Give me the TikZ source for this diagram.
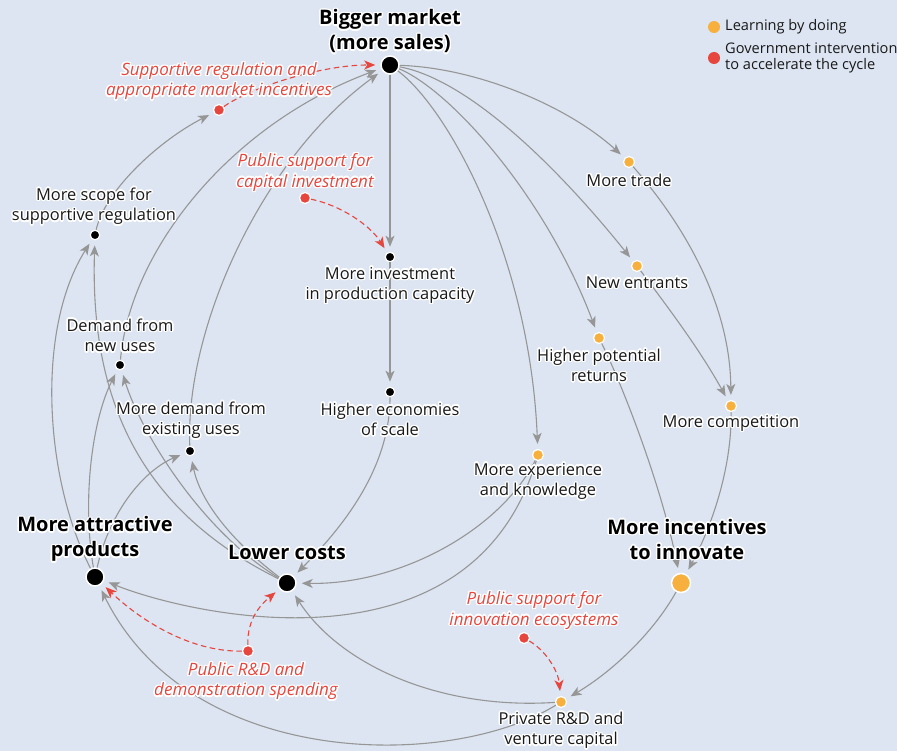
\documentclass[tikz,border=0pt]{standalone}
\usepackage{fontspec}
\setmainfont{Open Sans}
\usepackage[copies]{contour}
\contourlength{1.4pt}
\usetikzlibrary{arrows.meta}
\definecolor{bg}{RGB}{220,229,241}
\definecolor{arrgray}{RGB}{150,150,150}
\definecolor{myred}{RGB}{230,70,62}
\definecolor{myorange}{RGB}{247,176,62}
\definecolor{txt}{RGB}{25,25,25}
\newcommand\hw[1]{\contour{white}{#1}}
\begin{document}
\begin{tikzpicture}[x=1pt,y=-1pt,
  lab/.style={align=center,inner sep=0pt,font=\fontsize{16.4}{20.5}\selectfont,text=txt},
  blab/.style={align=center,inner sep=0pt,font=\fontsize{20}{25}\selectfont\bfseries,text=black},
  rlab/.style={align=center,inner sep=0pt,font=\fontsize{17}{20.5}\selectfont\itshape,text=myred},
  leg/.style={align=left,inner sep=0pt,anchor=west,font=\fontsize{14.6}{16.5}\selectfont,text=txt},
  bdot/.style={circle,fill=black,draw=white,line width=1.5pt,inner sep=0pt,minimum size=18pt},
  sdot/.style={circle,fill=black,draw=white,line width=1.2pt,inner sep=0pt,minimum size=9.5pt},
  odot/.style={circle,fill=myorange,draw=white,line width=1.2pt,inner sep=0pt,minimum size=11pt},
  bodot/.style={circle,fill=myorange,draw=white,line width=1.5pt,inner sep=0pt,minimum size=19pt},
  rdot/.style={circle,fill=myred,draw=white,line width=1.2pt,inner sep=0pt,minimum size=11pt},
  garr/.style={draw=arrgray,line width=1.1pt,-{Stealth[length=11pt,width=9pt,inset=3pt]},shorten >=5pt},
  rarr/.style={draw=myred,line width=1.1pt,dash pattern=on 5.5pt off 3.5pt,-{Stealth[length=11pt,width=9pt,inset=3pt]},shorten >=5pt},
]
\fill[bg] (0,0) rectangle (897,751);
\useasboundingbox (0,0) rectangle (897,751);

% dots
\node[bdot] (BM) at (390,65) {};
\node[sdot] (MI) at (390,257) {};
\node[sdot] (HE) at (390,392) {};
\node[sdot] (MS) at (95,235) {};
\node[sdot] (DN) at (120,365) {};
\node[sdot] (DE) at (190,451) {};
\node[bdot] (MA) at (95,577) {};
\node[bdot] (LC) at (287,583) {};
\node[odot] (MT) at (629,162) {};
\node[odot] (NE) at (637,266) {};
\node[odot] (HP) at (599,338) {};
\node[odot] (MC) at (731,406) {};
\node[odot] (ME) at (538,455) {};
\node[bodot] (MII) at (681,583) {};
\node[odot] (PR) at (561,702) {};
\node[rdot] (SR) at (219,110) {};
\node[rdot] (PS) at (305,198) {};
\node[rdot] (PRD) at (248,651) {};
\node[rdot] (PI) at (524,638) {};

% gray connectors
\draw[garr] (BM) -- (MI);
\draw[garr] (MI) -- (HE);
\draw[garr] (BM) .. controls (480,68) and (570,108) .. (MT);
\draw[garr] (BM) .. controls (470,80) and (560,170) .. (NE);
\draw[garr] (BM) .. controls (450,90) and (545,195) .. (HP);
\draw[garr] (BM) .. controls (450,110) and (530,260) .. (ME);
\draw[garr] (MT) .. controls (680,220) and (730,300) .. (MC);
\draw[garr] (NE) .. controls (670,310) and (700,350) .. (MC);
\draw[garr] (HP) .. controls (620,380) and (660,480) .. (MII);
\draw[garr] (MC) .. controls (732,470) and (710,530) .. (MII);
\draw[garr] (MII) .. controls (655,630) and (615,670) .. (PR);
\draw[garr] (PR) .. controls (440,710) and (340,665) .. (LC);
\draw[garr] (PR) .. controls (450,770) and (190,770) .. (MA);
\draw[garr] (ME) .. controls (500,530) and (400,585) .. (LC);
\draw[garr] (ME) .. controls (470,680) and (190,615) .. (MA);
\draw[garr] (HE) .. controls (390,470) and (340,530) .. (LC);
\draw[garr] (MA) .. controls (45,480) and (35,330) .. (MS);
\draw[garr] (LC) .. controls (140,510) and (90,400) .. (MS);
\draw[garr] (MA) .. controls (82,500) and (92,420) .. (DN);
\draw[garr] (LC) .. controls (200,530) and (140,430) .. (DN);
\draw[garr] (MA) .. controls (110,510) and (145,470) .. (DE);
\draw[garr] (LC) .. controls (230,540) and (200,500) .. (DE);
\draw[garr] (DN) .. controls (130,250) and (230,125) .. (BM);
\draw[garr] (DE) .. controls (185,330) and (260,160) .. (BM);
\draw[garr] (MS) .. controls (105,190) and (160,140) .. (SR);

% red dashed connectors
\draw[rarr] (SR) .. controls (250,88) and (320,65) .. (BM);
\draw[rarr] (PS) .. controls (340,205) and (370,225) .. (MI);
\draw[rarr] (PRD) .. controls (247,620) and (260,605) .. (LC);
\draw[rarr] (PRD) .. controls (190,652) and (140,620) .. (MA);
\draw[rarr] (PI) .. controls (545,650) and (558,670) .. (PR);

% labels
\node[blab] (tBM) at (390,32) {\hw{Bigger market}\\\hw{(more sales)}};
\node[blab] (tMA) at (95,540) {\hw{More attractive}\\\hw{products}};
\node[blab] (tLC) at (287,553) {\hw{Lower costs}};
\node[blab] (tMII) at (687,540) {\hw{More incentives}\\\hw{to innovate}};
\node[lab] (tMI) at (390,286) {\hw{More investment}\\\hw{in production capacity}};
\node[lab] (tHE) at (390,420) {\hw{Higher economies}\\\hw{of scale}};
\node[lab] (tMS) at (94,207) {\hw{More scope for}\\\hw{supportive regulation}};
\node[lab] (tDN) at (120,336) {\hw{Demand from}\\\hw{new uses}};
\node[lab] (tDE) at (191,421) {\hw{More demand from}\\\hw{existing uses}};
\node[lab] (tMT) at (629,181) {\hw{More trade}};
\node[lab] (tNE) at (637,283) {\hw{New entrants}};
\node[lab] (tHP) at (599,366) {\hw{Higher potential}\\\hw{returns}};
\node[lab] (tMC) at (731,424) {\hw{More competition}};
\node[lab] (tME) at (538,482) {\hw{More experience}\\\hw{and knowledge}};
\node[lab] (tPR) at (561,731) {\hw{Private R\&D and}\\\hw{venture capital}};
\node[rlab] (tSR) at (219,82) {\hw{Supportive regulation and}\\\hw{appropriate market incentives}};
\node[rlab] (tPS) at (305,173) {\hw{Public support for}\\\hw{capital investment}};
\node[rlab] (tPRD) at (246,682) {\hw{Public R\&D and}\\\hw{demonstration spending}};
\node[rlab] (tPI) at (534,611) {\hw{Public support for}\\\hw{innovation ecosystems}};

% legend
\node[odot,minimum size=12pt,draw=none] (L1) at (714,27) {};
\node[rdot,minimum size=12pt,draw=none] (L2) at (714,58) {};
\node[leg] (tL1) at (725,27) {Learning by doing};
\node[leg] (tL2) at (725,58) {Government intervention\\to accelerate the cycle};
\end{tikzpicture}
\end{document}
